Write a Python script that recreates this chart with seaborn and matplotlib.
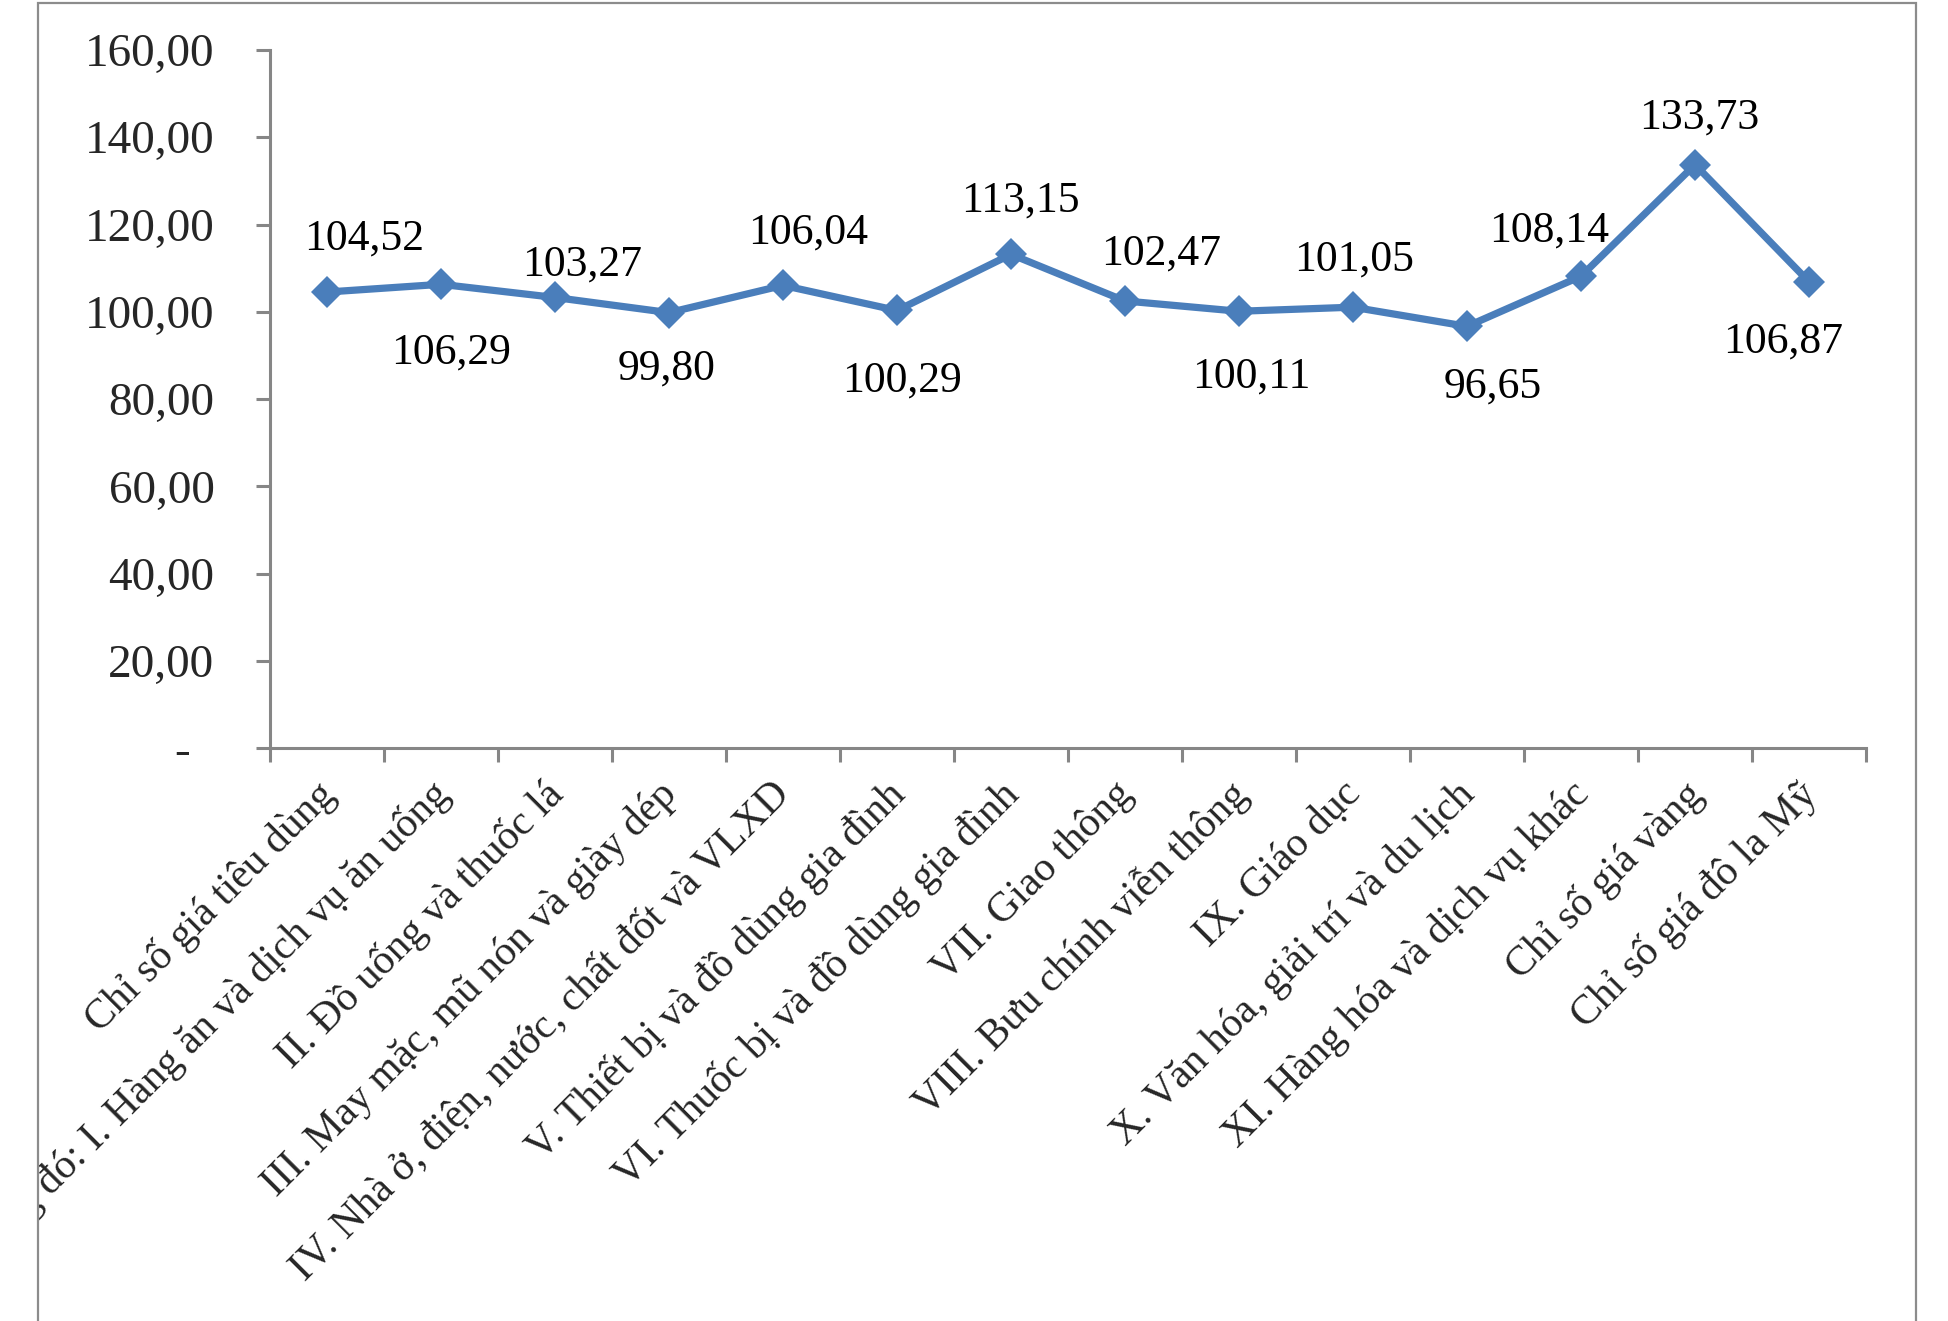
import matplotlib
matplotlib.use("Agg")
import matplotlib.pyplot as plt
import seaborn as sns
import pandas as pd
import numpy as np
from matplotlib.patches import Rectangle
from matplotlib.transforms import Bbox, TransformedBbox, ScaledTranslation

categories = [
    "Chỉ số giá tiêu dùng",
    "Trong đó: I. Hàng ăn và dịch vụ ăn uống",
    "II. Đồ uống và thuốc lá",
    "III. May mặc, mũ nón và giày dép",
    "IV. Nhà ở, điện, nước, chất đốt và VLXD",
    "V. Thiết bị và đồ dùng gia đình",
    "VI. Thuốc bị và đồ dùng gia đình",
    "VII. Giao thông",
    "VIII. Bưu chính viễn thông",
    "IX. Giáo dục",
    "X. Văn hóa, giải trí và du lịch",
    "XI. Hàng hóa và dịch vụ khác",
    "Chỉ số giá vàng",
    "Chỉ số giá đô la Mỹ",
]
values = [104.52, 106.29, 103.27, 99.80, 106.04, 100.29, 113.15,
          102.47, 100.11, 101.05, 96.65, 108.14, 133.73, 106.87]
y_ticks = [0, 20, 40, 60, 80, 100, 120, 140, 160]

# label offsets in pixels (dx right, dy down) - style only
label_dx = [37, 10, 27, -2, 25, 5, 9, 36, 12, 1, 26, -32, 4, -26]
label_dy = [-57, 64, -37, 52, -57, 66, -58, -51, 61, -52, 56, -50, -51, 56]

W, H, DPI = 1949, 1321, 100
sns.set_theme(style="white")
plt.rcParams['font.family'] = ['Liberation Serif', 'DejaVu Serif']

fig = plt.figure(figsize=(W / DPI, H / DPI), dpi=DPI)
ax = fig.add_axes([270 / W, 1 - 748 / H, (1866 - 270) / W, (748 - 50) / H])

df = pd.DataFrame({"cat": categories, "val": values})
line_color = "#4A7EBB"
sns.lineplot(data=df, x="cat", y="val", sort=False, ax=ax, color=line_color,
             lw=5.2, marker="D", markersize=16, markeredgewidth=0,
             markerfacecolor=line_color)

ax.set_xlim(-0.5, len(categories) - 0.5)
ax.set_ylim(0, 160)
ax.set_xlabel("")
ax.set_ylabel("")

# y ticks
ax.set_yticks(y_ticks)
ax.set_yticklabels([("-  " if v == 0 else f"{v:.2f}".replace(".", ",")) for v in y_ticks],
                   fontsize=34)
ax.tick_params(axis="y", direction="out", length=10, width=2.2, color="#868686",
               pad=30, left=True)

# x ticks: labels at centres, tick marks at boundaries
ax.set_xticks(range(len(categories)))
ax.set_xticklabels(categories, rotation=45, ha="right", rotation_mode="anchor",
                   fontsize=30)
ax.set_xticks(np.arange(-0.5, len(categories), 1.0), minor=True)
ax.tick_params(axis="x", which="major", length=0, pad=19)
ax.tick_params(axis="x", which="minor", direction="out", length=10, width=2.2,
               color="#868686", bottom=True)

for s in ["top", "right"]:
    ax.spines[s].set_visible(False)
for s in ["left", "bottom"]:
    ax.spines[s].set_color("#868686")
    ax.spines[s].set_linewidth(2.2)

clip = TransformedBbox(Bbox([[38 / W, 0], [1916 / W, 1 - 3 / H]]), fig.transFigure)
shift = ScaledTranslation(-12 / DPI, 0, fig.dpi_scale_trans)
for lab in ax.get_xticklabels():
    lab.set_transform(lab.get_transform() + shift)
    lab.set_clip_on(True)
    lab.set_clip_box(clip)

# data labels
for i, v in enumerate(values):
    ax.annotate(f"{v:.2f}".replace(".", ","), xy=(i, v),
                xytext=(label_dx[i], -(label_dy[i] + 15)),
                textcoords="offset pixels", ha="center", va="baseline",
                fontsize=31.5, color="black")

# chart-area border
fig.add_artist(Rectangle((38 / W, -0.05), (1916 - 38) / W, 1.05 - 3 / H,
                         transform=fig.transFigure, fill=False,
                         edgecolor="#8c8c8c", lw=1.6))

fig.savefig("out.png", dpi=DPI)
